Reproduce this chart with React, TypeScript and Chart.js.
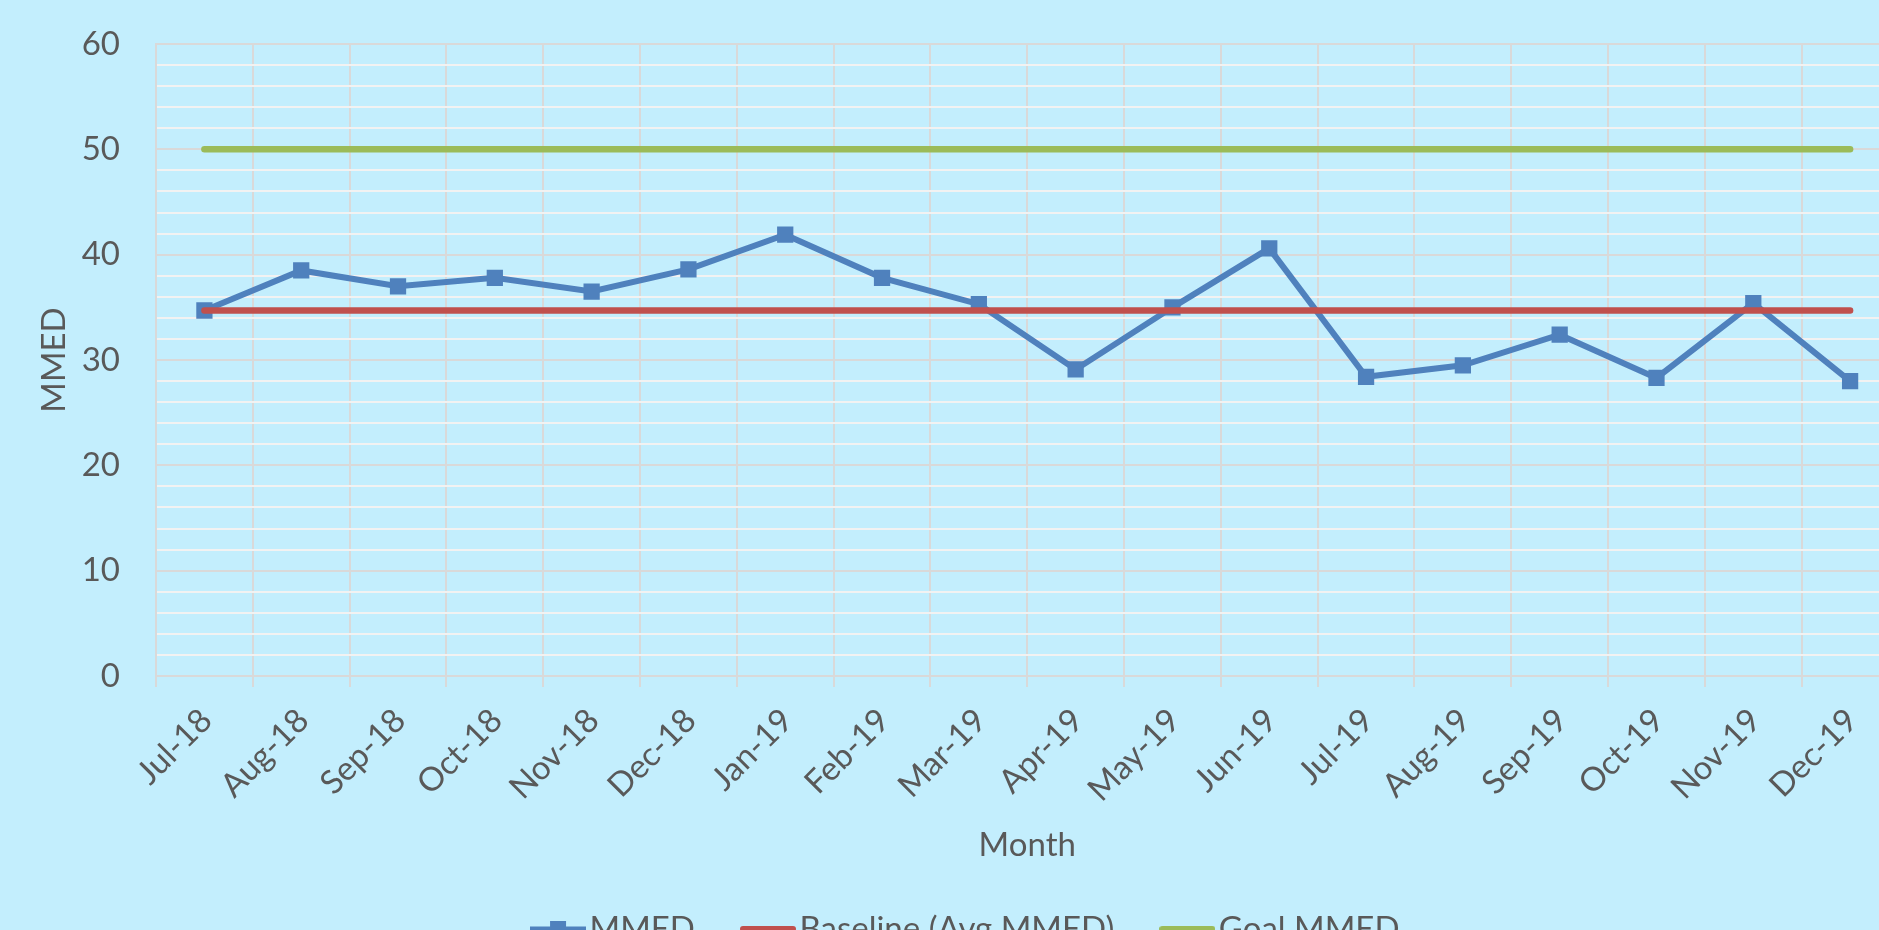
import React, { useEffect, useRef } from 'react';
import { Chart, registerables } from 'chart.js';

Chart.register(...registerables);

const MONTHS = [
  'Jul-18', 'Aug-18', 'Sep-18', 'Oct-18', 'Nov-18', 'Dec-18',
  'Jan-19', 'Feb-19', 'Mar-19', 'Apr-19', 'May-19', 'Jun-19',
  'Jul-19', 'Aug-19', 'Sep-19', 'Oct-19', 'Nov-19', 'Dec-19',
];
const MMED = [34.7, 38.5, 37.0, 37.8, 36.5, 38.6, 41.9, 37.8, 35.3, 29.1, 35.0, 40.6, 28.4, 29.5, 32.4, 28.3, 35.4, 28.0];
const BASELINE = [34.7, 34.7, 34.7, 34.7, 34.7, 34.7, 34.7, 34.7, 34.7, 34.7, 34.7, 34.7, 34.7, 34.7, 34.7, 34.7, 34.7, 34.7];
const GOAL = [50, 50, 50, 50, 50, 50, 50, 50, 50, 50, 50, 50, 50, 50, 50, 50, 50, 50];
const Y_MIN = 0;
const Y_MAX = 60;
const Y_MINOR_STEP = 2;
const Y_MAJOR_STEP = 10;

const BLUE = '#4F81BD';
const RED = '#C0504D';
const GREEN = '#9BBB59';
const TEXT = '#595959';
const GRID_MAJOR = '#D9D9D9';
const GRID_MINOR = '#F2F2F2';
const BG = '#C3EEFD';
const FONT = 'Lato';
const FS = 33;

function swatch(color: string, lw: number, marker: boolean): HTMLCanvasElement {
  const c = document.createElement('canvas');
  c.width = 56;
  c.height = 18;
  const g = c.getContext('2d')!;
  g.strokeStyle = color;
  g.lineWidth = lw;
  g.lineCap = marker ? 'butt' : 'round';
  g.beginPath();
  g.moveTo(marker ? 0 : 3, 9);
  g.lineTo(marker ? 56 : 53, 9);
  g.stroke();
  if (marker) {
    g.fillStyle = color;
    g.fillRect(20, 1, 16, 16);
  }
  return c;
}

export default function App() {
  const ref = useRef<HTMLCanvasElement>(null);

  useEffect(() => {
    document.body.style.margin = '0';
    document.body.style.background = BG;
    document.body.style.overflow = 'hidden';
    const font = { family: FONT, size: FS };
    const chart = new Chart(ref.current!, {
      type: 'line',
      data: {
        labels: MONTHS,
        datasets: [
          {
            label: 'MMED',
            data: MMED,
            borderColor: BLUE,
            backgroundColor: BLUE,
            borderWidth: 6,
            pointStyle: 'rect',
            pointRadius: 11.5,
            pointBorderWidth: 0,
            pointBackgroundColor: BLUE,
            tension: 0,
            order: 2,
          },
          {
            label: 'Baseline (Avg MMED)',
            data: BASELINE,
            borderColor: RED,
            backgroundColor: RED,
            borderWidth: 6.5,
            borderCapStyle: 'round',
            pointRadius: 0,
            order: 1,
          },
          {
            label: 'Goal MMED',
            data: GOAL,
            borderColor: GREEN,
            backgroundColor: GREEN,
            borderWidth: 6.5,
            borderCapStyle: 'round',
            pointRadius: 0,
            order: 0,
          },
        ],
      },
      options: {
        responsive: false,
        animation: false,
        events: [],
        layout: { padding: { left: 40, right: 7.5, top: 44, bottom: 4.5 } },
        plugins: {
          tooltip: { enabled: false },
          legend: {
            position: 'bottom',
            align: 'center',
            labels: {
              usePointStyle: true,
              pointStyleWidth: 30,
              padding: 58,
              color: TEXT,
              font,
              generateLabels: () => [
                { text: 'MMED', pointStyle: swatch(BLUE, 5, true), fillStyle: BLUE, strokeStyle: BLUE, lineWidth: 0, hidden: false, datasetIndex: 0, fontColor: TEXT },
                { text: 'Baseline (Avg MMED)', pointStyle: swatch(RED, 6, false), fillStyle: RED, strokeStyle: RED, lineWidth: 0, hidden: false, datasetIndex: 1, fontColor: TEXT },
                { text: 'Goal MMED', pointStyle: swatch(GREEN, 6, false), fillStyle: GREEN, strokeStyle: GREEN, lineWidth: 0, hidden: false, datasetIndex: 2, fontColor: TEXT },
              ] as any,
            },
          },
        },
        scales: {
          x: {
            offset: true,
            grid: {
              offset: true,
              color: GRID_MAJOR,
              lineWidth: 2,
              drawTicks: true,
              tickLength: 11,
              tickColor: GRID_MAJOR,
            },
            border: { display: false },
            ticks: {
              autoSkip: false,
              minRotation: 45,
              maxRotation: 45,
              padding: 14,
              labelOffset: 2,
              color: TEXT,
              font,
            },
            title: {
              display: true,
              text: 'Month',
              color: TEXT,
              font,
              padding: { top: 0, bottom: -10.5 },
            },
            afterFit: (s: any) => {
              s.height = 178.5;
            },
          },
          y: {
            min: Y_MIN,
            max: Y_MAX,
            ticks: {
              stepSize: Y_MINOR_STEP,
              autoSkip: false,
              padding: 0,
              color: TEXT,
              font,
              callback: (v: any) => (Number(v) % Y_MAJOR_STEP === 0 ? String(v) : ''),
            },
            grid: {
              drawTicks: true,
              tickLength: 36,
              tickColor: 'rgba(0,0,0,0)',
              lineWidth: 2,
              color: (ctx: any) => (ctx.tick && ctx.tick.value % Y_MAJOR_STEP === 0 ? GRID_MAJOR : GRID_MINOR),
            },
            border: { color: GRID_MAJOR, width: 2 },
            title: {
              display: true,
              text: 'MMED',
              color: TEXT,
              font,
              padding: { top: -5, bottom: 0 },
            },
            afterFit: (s: any) => {
              s.width = 116;
            },
          },
        },
      },
    });
    return () => chart.destroy();
  }, []);

  return (
    <div style={{ position: 'fixed', left: 0, top: 0, width: 1910, height: 960, background: BG, overflow: 'hidden' }}>
      <canvas ref={ref} width={1910} height={960} style={{ display: 'block', width: 1910, height: 960 }} />
    </div>
  );
}
